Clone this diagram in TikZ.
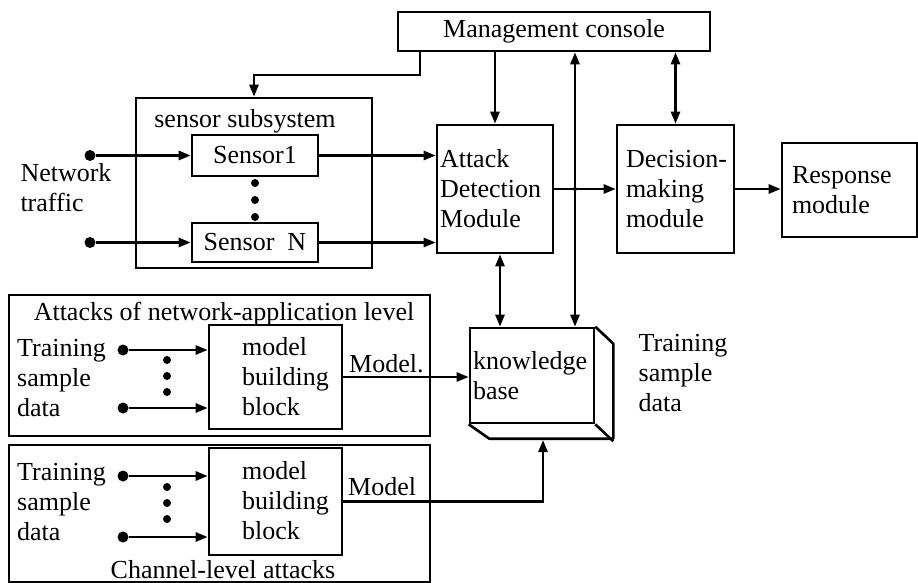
\documentclass[tikz,border=0pt]{standalone}
\usepackage{fontspec}
\setmainfont{Liberation Serif}
\usetikzlibrary{arrows.meta}
\begin{document}
\begin{tikzpicture}[x=1pt,y=-1pt, font=\fontsize{26}{30}\selectfont,
 box/.style={draw, line width=2.6pt, inner sep=0pt},
 ln/.style={line width=2.6pt},
 arr/.style={line width=2.6pt, -{Triangle[length=12pt,width=9pt]}},
 biarr/.style={line width=2.6pt, {Triangle[length=12pt,width=9pt]}-{Triangle[length=12pt,width=9pt]}},
 dotc/.style={circle, fill, inner sep=0pt, minimum size=11pt},
 vdot/.style={circle, fill, inner sep=0pt, minimum size=8pt},
 lbl/.style={align=left, inner sep=0pt}]
\useasboundingbox (0,0) rectangle (918,583);

% top row
\node[box, minimum width=312pt, minimum height=39pt] (mgmt) at (554,31.5) {Management console};
\node[box, minimum width=236pt, minimum height=170pt] (sub) at (254,183) {};
\node[lbl] (sublbl) at (245,121) {sensor subsystem};
\node[box, minimum width=126pt, minimum height=41pt] (s1) at (255,155.5) {Sensor1};
\node[box, minimum width=126pt, minimum height=39pt] (sn) at (255,242.5) {Sensor\ \ N};
\node[vdot] (sd1) at (255,183) {};
\node[vdot] (sd2) at (255,200) {};
\node[vdot] (sd3) at (255,217) {};
\node[dotc] (in1) at (90,155.5) {};
\node[dotc] (in2) at (90,242.5) {};
\node[lbl] (nt) at (66,188) {Network\\traffic};

\node[box, minimum height=128pt, text width=110pt, inner xsep=3pt, align=left] (adm) at (495,189) {Attack\\Detection\\Module};
\node[box, minimum height=128pt, text width=109pt, inner xsep=4pt, align=left] (dec) at (675.5,189) {\hspace*{5pt}\mbox{Decision-}\\\hspace*{5pt}making\\\hspace*{5pt}module};
\node[box, minimum height=94pt, text width=115pt, inner xsep=10pt, align=left] (resp) at (849.5,190) {Response\\module};

% knowledge base
\node[box, minimum height=95pt, text width=118pt, inner xsep=3pt, align=left] (kb) at (532,375.5) {knowledge\\base};
\draw[ln, line join=round] (kb.north east) -- ++(18,17) -- ++(0,95) -- ++(-124,0) -- (kb.south west);
\draw[ln] (kb.south east) -- ++(18,17);
\coordinate (kbb) at (543,440);
\node[lbl] (tsr) at (683,373) {Training\\sample\\data};

% lower left blocks
\node[box, minimum width=421pt, minimum height=141pt] (netapp) at (219.5,365.5) {};
\node[anchor=base, inner sep=0pt] (netapplbl) at (224,320) {Attacks of network-application level};
\node[box, minimum width=133pt, minimum height=104pt] (mb1) at (275.5,377) {};
\node[lbl, anchor=west] (mb1t) at (242,377) {model\\building\\block};
\node[lbl, anchor=west] (ts1) at (17,378) {Training\\sample\\data};
\node[dotc] (t1a) at (123,350) {};
\node[dotc] (t1b) at (123,408) {};
\node[vdot] (v1a) at (167,360) {};
\node[vdot] (v1b) at (167,376) {};
\node[vdot] (v1c) at (167,392) {};
\node[anchor=base west, inner sep=0pt] (m1) at (349,372) {Model.};

\node[box, minimum width=421pt, minimum height=137pt] (chan) at (219.5,513.5) {};
\node[box, minimum width=133pt, minimum height=107pt] (mb2) at (275.5,501.5) {};
\node[lbl, anchor=west] (mb2t) at (242,501) {model\\building\\block};
\node[lbl, anchor=west] (ts2) at (17,502) {Training\\sample\\data};
\node[dotc] (t2a) at (123,476) {};
\node[dotc] (t2b) at (123,537) {};
\node[vdot] (v2a) at (167,487) {};
\node[vdot] (v2b) at (167,503) {};
\node[vdot] (v2c) at (167,519) {};
\node[anchor=base west, inner sep=0pt] (m2) at (348,495) {Model};
\node[anchor=base, inner sep=0pt] (chanlbl) at (223,578) {Channel-level attacks};

% connectors
\coordinate (mc1) at (420,51);
\draw[arr] (mc1) -- ++(0,24) -| (sub.north);
\draw[arr] (in1) -- (s1.west);
\draw[arr] (in2) -- (sn.west);
\draw[arr] (s1.east) -- (s1.east -| adm.west);
\draw[arr] (sn.east) -- (sn.east -| adm.west);
\draw[arr] (mgmt.south -| adm.north) -- (adm.north);
\draw[biarr] (mgmt.south -| dec.north) -- (dec.north);
\draw[arr] (adm.east) -- (dec.west);
\draw[arr] (dec.east) -- (dec.east -| resp.west);
\coordinate (akx) at (500,0);
\coordinate (mkx) at (575,0);
\draw[biarr] (adm.south -| akx) -- (kb.north -| akx);
\draw[biarr] (mgmt.south -| mkx) -- (kb.north -| mkx);
\node[circle, fill, inner sep=0pt, minimum size=4pt] (jn) at (adm.east -| mkx) {};
\draw[arr] (t1a) -- (t1a -| mb1.west);
\draw[arr] (t1b) -- (t1b -| mb1.west);
\draw[arr] (t2a) -- (t2a -| mb2.west);
\draw[arr] (t2b) -- (t2b -| mb2.west);
\draw[arr] (mb1.east) -- (mb1.east -| kb.west);
\draw[arr] (mb2.east) -| (kbb);
\end{tikzpicture}
\end{document}
